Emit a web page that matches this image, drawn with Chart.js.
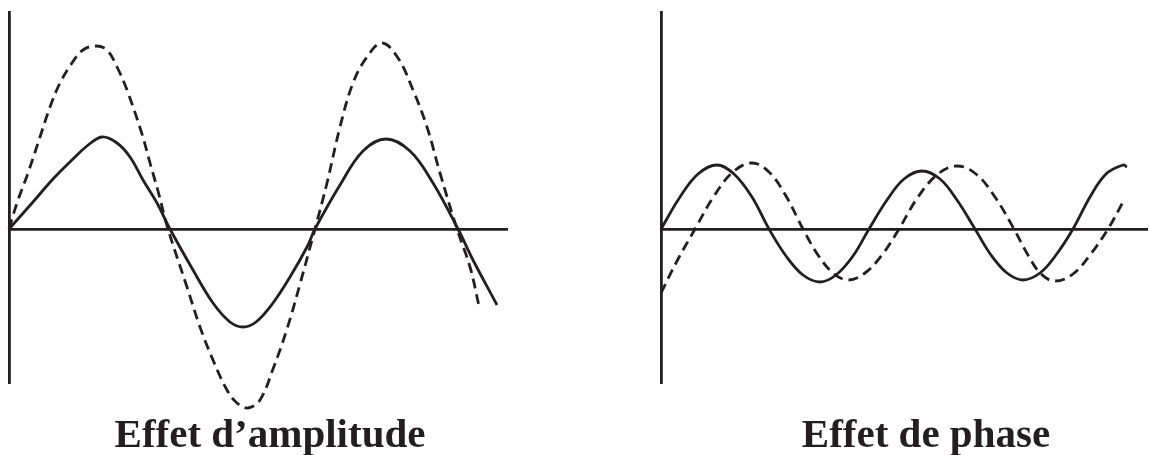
<!DOCTYPE html>
<html>
<head>
<meta charset="utf-8">
<script src="https://cdn.jsdelivr.net/npm/chart.js@4"></script>
<style>
  html, body { margin: 0; padding: 0; background: #fff; width: 1149px; height: 455px; overflow: hidden; }
  canvas { position: absolute; top: 0; }
  .caption {
    position: absolute; top: 413px;
    font: bold 41px "Liberation Serif", "Times New Roman", serif;
    line-height: 41px; color: #231f20; white-space: nowrap;
    transform: translateX(-50%);
  }
</style>
</head>
<body>
<canvas id="amplitude" width="574" height="455" style="left:0"></canvas>
<canvas id="phase" width="575" height="455" style="left:574px"></canvas>
<div class="caption" style="left:270px">Effet d’amplitude</div>
<div class="caption" style="left:926px">Effet de phase</div>
<script>
// Effet d'amplitude: reference wave (solid) and the same wave with a larger amplitude (dashed)
const ampBaseT = [0, 24, 44, 64, 78, 93, 108, 121, 134, 148, 161, 184, 204, 221, 234, 247, 264, 281, 298, 306, 331, 354, 377, 401, 424, 449, 464, 488];
const ampBaseV = [0, 27, 50, 70, 83, 92, 86, 72, 49, 26, 0, -41, -74, -93, -98, -93, -74, -48, -18, 0, 44, 78, 90, 78, 46, 0, -31, -76];
const ampLargeT = [0, 8, 19, 31, 41, 51, 63, 74, 87, 98, 108, 118, 133, 141, 149, 159, 178, 191, 204, 218, 228, 239, 251, 264, 278, 291, 303, 306, 318, 331, 344, 358, 373, 389, 404, 418, 431, 448, 461, 470];
const ampLargeV = [0, 26, 56, 92, 122, 146, 166, 179, 183, 179, 162, 139, 95, 66, 38, 0, -58, -98, -131, -161, -174, -179, -171, -140, -100, -55, -11, 0, 46, 102, 146, 172, 186, 171, 139, 102, 56, 0, -38, -77];

// Effet de phase: two waves of equal amplitude, the dashed one shifted in time
const phaseRefT = [0, 19, 37, 56, 73, 91, 108, 125, 142, 159, 175, 192, 208, 226, 243, 261, 279, 296, 314, 330, 346, 362, 379, 395, 412, 429, 445, 462, 466];
const phaseRefV = [0, 32, 55, 64, 55, 32, 0, -27, -46, -53, -46, -27, 0, 29, 50, 58, 50, 29, 0, -26, -44, -51, -44, -26, 0, 32, 55, 64, 62];
const phaseShiftT = [0, 16, 34, 53, 72, 91, 108, 125, 142, 157, 172, 187, 204, 221, 238, 257, 277, 296, 315, 334, 353, 367, 380, 394, 412, 429, 447, 463];
const phaseShiftV = [-64, -32, 0, 33, 57, 66, 57, 33, 0, -26, -44, -51, -44, -26, 0, 32, 55, 63, 55, 32, 0, -26, -45, -52, -45, -26, 0, 29];

const INK = '#231f20';

function points(t, v) {
  return t.map((x, i) => ({ x: x, y: v[i] }));
}

function wave(t, v, dashed) {
  return {
    data: points(t, v),
    borderColor: INK,
    borderWidth: 2.8,
    borderDash: dashed ? [10, 6] : [],
    borderCapStyle: 'butt',
    pointRadius: 0,
    tension: 0.38,
    fill: false,
    clip: false
  };
}

function axes(xMax) {
  return {
    x: {
      type: 'linear', min: 0, max: xMax,
      position: { y: 0 },
      grid: { display: true, color: 'rgba(0,0,0,0)', drawTicks: false, tickLength: 0 },
      border: { display: true, color: INK, width: 2.8 },
      ticks: { display: false }
    },
    y: {
      type: 'linear', min: -154, max: 217,
      position: 'left',
      grid: { display: true, color: 'rgba(0,0,0,0)', drawTicks: false, tickLength: 0 },
      border: { display: true, color: INK, width: 2.8 },
      ticks: { display: false }
    }
  };
}

function panel(id, datasets, xMax, padding) {
  new Chart(document.getElementById(id), {
    type: 'line',
    data: { datasets: datasets },
    options: {
      responsive: false,
      animation: false,
      devicePixelRatio: 1,
      layout: { padding: padding },
      plugins: { legend: { display: false }, tooltip: { enabled: false }, title: { display: false } },
      scales: axes(xMax)
    }
  });
}

panel('amplitude',
  [wave(ampBaseT, ampBaseV, false), wave(ampLargeT, ampLargeV, true)],
  498, { left: 9, top: 12, right: 67, bottom: 72 });

panel('phase',
  [wave(phaseRefT, phaseRefV, false), wave(phaseShiftT, phaseShiftV, true)],
  486, { left: 87, top: 12, right: 2, bottom: 72 });
</script>
</body>
</html>
